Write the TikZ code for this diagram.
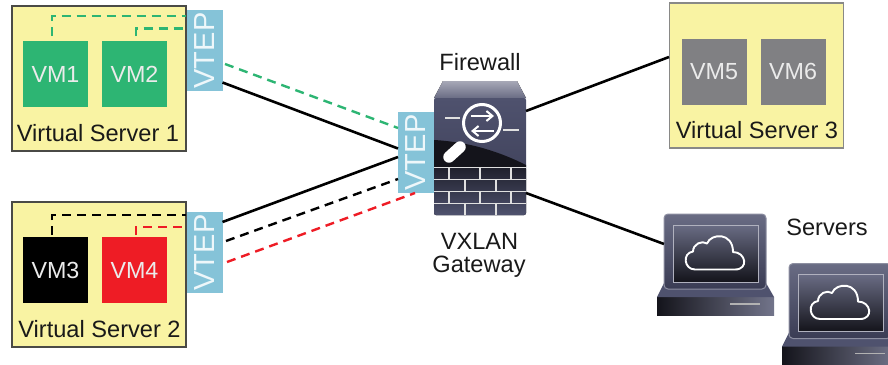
\documentclass[tikz,border=0pt]{standalone}
\usepackage{fontspec}
\setmainfont{Liberation Sans}
\usetikzlibrary{arrows.meta,calc,shadings}
\definecolor{srvyellow}{HTML}{F9F3A3}
\definecolor{srvedge}{HTML}{4A4A46}
\definecolor{vmgreen}{HTML}{2DB573}
\definecolor{vmred}{HTML}{EE1C25}
\definecolor{vmgray}{HTML}{808083}
\definecolor{vtepblue}{HTML}{85C3D8}
\definecolor{vteptext}{HTML}{EEF7FA}
\definecolor{navytop}{HTML}{4F526E}
\definecolor{navymid}{HTML}{3A3C54}
\definecolor{inkdark}{HTML}{14141B}
\tikzset{
  x=1pt,y=-1pt,
  server/.style={draw=srvedge,line width=1.3pt,fill=srvyellow,minimum width=174pt,minimum height=145pt,inner sep=0pt,outer sep=0pt},
  vmbox/.style={minimum width=65pt,minimum height=66pt,inner sep=0pt,outer sep=0pt,text=white!92!black,font=\fontsize{23.3}{26}\selectfont},
  vtepbox/.style={fill=vtepblue,minimum width=81pt,minimum height=36pt,inner sep=0pt,outer sep=0pt,rotate=90,text=vteptext,font=\fontsize{29}{30}\selectfont},
  label/.style={inner sep=0pt,text=black!90,font=\fontsize{23.6}{26}\selectfont},
  solidlink/.style={line width=2.6pt,black},
  dashlink/.style={line width=2.4pt,dash pattern=on 9pt off 6pt},
  fwline/.style={white!88!black,line width=1.1pt},
}
\newcommand{\laptopicon}[1]{%
  \fill[left color=inkdark,right color=navytop!80!white] (657,297) rectangle (774,315);
  \fill[navytop] (664,283) -- (766,283) -- (774,297) -- (657,297) -- cycle;
  \draw[white!70!black,line width=1.2pt] (730,304) -- (760,304);
  \node[draw=navytop!65!white,line width=1pt,rounded corners=4pt,top color=navytop!85!white,bottom color=navymid,minimum width=102pt,minimum height=75pt,inner sep=0pt,outer sep=0pt] (#1) at (715,251.5) {};
  \fill[top color=navytop!85!white,bottom color=inkdark] (673,225) rectangle (758,282);
  \draw[white!55!navytop,line width=1pt] (673,225) rectangle (758,282);
  \draw[white,line width=1.9pt,line join=round] (695,269.5)
    .. controls (684,269.5) and (682,253) .. (693,251.5)
    .. controls (693,244) and (702,240) .. (707,243.5)
    .. controls (711,233) and (733,232) .. (733,252)
    .. controls (746,252) and (749,269.5) .. (735,269.5) -- cycle;
}
\begin{document}
\begin{tikzpicture}
\useasboundingbox (0,0) rectangle (888,364);

% Virtual servers
\node[server] (vs1) at (99,78.5) {};
\node[server] (vs2) at (99,274.5) {};
\node[server,draw=srvedge!65!white] (vs3) at (756.5,75.5) {};
\node[label] (vs1t) at (98,133) {Virtual Server 1};
\node[label] (vs2t) at (99.5,329) {Virtual Server 2};
\node[label] (vs3t) at (757,130) {Virtual Server 3};

% VMs
\node[vmbox,fill=vmgreen] (vm1) at (55.5,74) {VM1};
\node[vmbox,fill=vmgreen] (vm2) at (134.5,74) {VM2};
\node[vmbox,fill=black] (vm3) at (55.5,270) {VM3};
\node[vmbox,fill=vmred] (vm4) at (134.5,270) {VM4};
\node[vmbox,fill=vmgray] (vm5) at (714,71.5) {VM5};
\node[vmbox,fill=vmgray] (vm6) at (793,71.5) {VM6};

% VTEPs
\node[vtepbox] (vtepa) at (204.5,50.5) {VTEP};
\node[vtepbox] (vtepb) at (204.5,252.5) {VTEP};

% Firewall body
\fill[top color=navytop!50!white,bottom color=navytop!85!white] (443,81) -- (517,81) -- (526,98) -- (434,98) -- cycle;
\node[rounded corners=2pt,top color=navytop,bottom color=navymid,minimum width=92pt,minimum height=117pt,inner sep=0pt,outer sep=0pt] (fw) at (480,156.5) {};
\fill[inkdark] (434,140) .. controls (470,142) and (500,152) .. (526,165) -- (526,167) -- (434,167) -- cycle;
\fill[rounded corners=2pt,top color=inkdark!70!navymid,bottom color=navytop] (434,167) rectangle (526,215);
\draw[fwline] (434,167.3) -- (526,167.3) (434,179.3) -- (526,179.3) (434,191.6) -- (526,191.6) (434,203.3) -- (526,203.3);
\draw[fwline] (449,167.3) -- (449,179.3) (480,167.3) -- (480,179.3) (511,167.3) -- (511,179.3)
  (465,179.3) -- (465,191.6) (496,179.3) -- (496,191.6)
  (449,191.6) -- (449,203.3) (480,191.6) -- (480,203.3) (511,191.6) -- (511,203.3)
  (465,203.3) -- (465,215) (496,203.3) -- (496,215);
\draw[white,line width=3pt] (482,123) circle (18.5);
\draw[white!88!black,line width=1.5pt] (445,118) -- (460,118) (503,130) -- (519,130);
\draw[white,line width=2pt,-{Straight Barb[length=6pt,width=10pt]}] (471,116) -- (494,116);
\draw[white,line width=2pt,-{Straight Barb[length=6pt,width=10pt]}] (494,131) -- (471,131);
\draw[white,line width=11.5pt,line cap=round] (449,157) -- (460,147);
\node[vtepbox] (vtepc) at (416,152.5) {VTEP};

% Firewall labels
\node[label] (fwt) at (480,62) {Firewall};
\node[label] (gw1) at (479.5,241) {VXLAN};
\node[label] (gw2) at (479,267) {Gateway};
\node[label] (srvt) at (827,227) {Servers};

% Server icons
\laptopicon{srva}
\begin{scope}
  \clip (0,0) rectangle (888,364);
  \begin{scope}[shift={(125,49.5)}]
    \laptopicon{srvb}
  \end{scope}
\end{scope}

% Connector end points
\coordinate (s1) at (222.5,82.5);
\coordinate (s2) at (398,148.5);
\coordinate (g1) at (225,64);
\coordinate (g2) at (398,128);
\coordinate (s3) at (222.5,222);
\coordinate (s4) at (398,157);
\coordinate (k1) at (226,241);
\coordinate (k2) at (398,179);
\coordinate (r1) at (227,262);
\coordinate (r2) at (415,193);
\coordinate (f1) at (526,111);
\coordinate (f2) at (669,57);
\coordinate (f3) at (526,193);
\coordinate (f4) at (664,244);
\coordinate (t1) at (52,36);
\coordinate (t2) at (136,36);
\coordinate (t3) at (52,235);
\coordinate (t4) at (136,235);

% Overlay links
\draw[solidlink] (s1) -- (s2);
\draw[solidlink] (s3) -- (s4);
\draw[dashlink,vmgreen] (g1) -- (g2);
\draw[dashlink,black] (k1) -- (k2);
\draw[dashlink,vmred] (r1) -- (r2);
\draw[solidlink] (f1) -- (f2);
\draw[solidlink] (f3) -- (f4);

% VM to VTEP tunnels
\draw[dashlink,vmgreen] (t1) -- (52,15.7) -- (186,15.7);
\draw[dashlink,vmgreen] (t2) -- (136,28.5) -- (186,28.5);
\draw[dashlink,black] (t3) -- (52,215) -- (186,215);
\draw[dashlink,vmred] (t4) -- (136,227) -- (186,227);
\end{tikzpicture}
\end{document}
